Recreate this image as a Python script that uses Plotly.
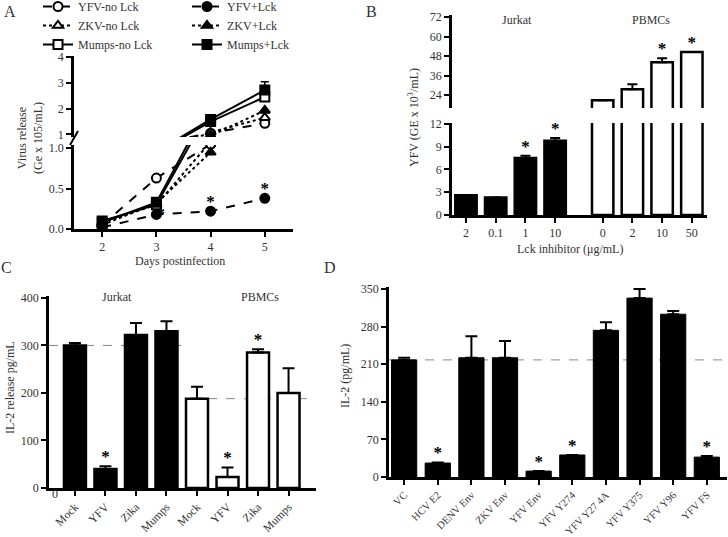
import plotly.graph_objects as go

W, H = 728, 537
FONT = "Liberation Serif"
TICKC = "#333333"


def px(x):
    return x / W


def py(y):
    return 1 - y / H


# ---------------- Panel A data ----------------
a_days = [2, 3, 4, 5]
a_names = ["YFV-no Lck", "ZKV-no Lck", "Mumps-no Lck", "YFV+Lck", "ZKV+Lck", "Mumps+Lck"]
a_yfv_no = [0.05, 0.63, 1.05, 1.43]
a_zkv_no = [0.08, 0.30, 1.08, 1.65]
a_mumps_no = [0.10, 0.30, 1.50, 2.45]
a_yfv_lck = [0.02, 0.18, 0.22, 0.38]
a_zkv_lck = [0.05, 0.32, 0.95, 1.93]
a_mumps_lck = [0.08, 0.33, 1.58, 2.72]
a_mumps_lck_err = [0.02, 0.03, 0.08, 0.32]
a_yfv_lck_sig = [False, True, True, True]

# ---------------- Panel B data ----------------
b_jurkat_labels = ["2", "0.1", "1", "10"]
b_jurkat_vals = [2.6, 2.3, 7.5, 9.8]
b_jurkat_err = [0, 0, 0.3, 0.35]
b_jurkat_sig = [False, False, True, True]
b_pbmc_labels = ["0", "2", "10", "50"]
b_pbmc_vals = [20.8, 27.6, 44.2, 50.5]
b_pbmc_err = [0, 3.0, 2.4, 0]
b_pbmc_sig = [False, False, True, True]

# ---------------- Panel C data ----------------
c_labels = ["Mock", "YFV", "Zika", "Mumps", "Mock", "YFV", "Zika", "Mumps"]
c_jurkat_vals = [300, 40, 322, 330]
c_jurkat_err = [5, 6, 25, 21]
c_jurkat_sig = [False, True, False, False]
c_pbmc_vals = [188, 23, 285, 200]
c_pbmc_err = [25, 20, 7, 52]
c_pbmc_sig = [False, True, True, False]

# ---------------- Panel D data ----------------
d_labels = ["VC", "HCV E2", "DENV Env", "ZKV Env", "YFV Env", "YFV Y274",
            "YFV Y27 4A", "YFV Y375", "YFV Y96", "YFV FS"]
d_vals = [218, 26, 222, 222, 11, 41, 273, 333, 303, 37]
d_err = [4, 1, 40, 31, 0, 0, 15, 17, 6, 2]
d_sig = [False, True, False, False, True, True, False, False, False, True]

fig = go.Figure()
STAR_FONT = dict(family=FONT, size=17, color="black", weight="bold")

# ---------------- Panel A traces ----------------
a_data = [a_yfv_no, a_zkv_no, a_mumps_no, a_yfv_lck, a_zkv_lck, a_mumps_lck]
a_dash = ["dash", "dot", "solid", "dash", "dot", "solid"]
a_sym = ["circle", "triangle-up", "square", "circle", "triangle-up", "square"]
a_fill = ["white", "white", "white", "black", "black", "black"]
for i, (name, vals) in enumerate(zip(a_names, a_data)):
    err = a_mumps_lck_err if name == "Mumps+Lck" else None
    for xa, ya, show in (("x", "y", True), ("x2", "y2", False)):
        fig.add_trace(go.Scatter(
            x=a_days, y=vals, name=name, mode="lines+markers",
            xaxis=xa, yaxis=ya, showlegend=show,
            legend="legend" if i < 3 else "legend2",
            line=dict(color="black", width=2, dash=a_dash[i]),
            marker=dict(symbol=a_sym[i], size=9, color=a_fill[i],
                        line=dict(color="black", width=2)),
            error_y=dict(type="data", symmetric=False, array=err,
                         arrayminus=[0] * len(a_days), color="black",
                         thickness=1.5, width=4, visible=err is not None),
        ))
# significance stars
a_star_pos = ["middle right" if d == 3 else "top center" for d in a_days]
fig.add_trace(go.Scatter(
    x=[d for d, s in zip(a_days, a_yfv_lck_sig) if s],
    y=[v for v, s in zip(a_yfv_lck, a_yfv_lck_sig) if s],
    text=["*" for s in a_yfv_lck_sig if s],
    textposition=[p for p, s in zip(a_star_pos, a_yfv_lck_sig) if s],
    mode="text", xaxis="x", yaxis="y", showlegend=False, textfont=STAR_FONT,
))

# ---------------- Panel B traces ----------------
b_jx = list(range(len(b_jurkat_vals)))
b_px = [4.6 + i for i in range(len(b_pbmc_vals))]
B_LOW = [0, 12.13]
B_UP = [16, 73]
for xs, vals, errs, fill in ((b_jx, b_jurkat_vals, b_jurkat_err, "black"),
                             (b_px, b_pbmc_vals, b_pbmc_err, "white")):
    for xa, ya, rng in (("x3", "y3", B_LOW), ("x4", "y4", B_UP)):
        e = [er if (rng[0] <= v and v + er <= rng[1]) else 0 for v, er in zip(vals, errs)]
        fig.add_trace(go.Bar(
            x=xs, y=vals, width=0.72, xaxis=xa, yaxis=ya, showlegend=False,
            marker=dict(color=fill, line=dict(color="black", width=2.5)),
            error_y=dict(type="data", symmetric=False, array=e,
                         arrayminus=[0] * len(vals), color="black",
                         thickness=2, width=5),
        ))
for xs, vals, errs, sig in ((b_jx, b_jurkat_vals, b_jurkat_err, b_jurkat_sig),
                            (b_px, b_pbmc_vals, b_pbmc_err, b_pbmc_sig)):
    for xa, ya, rng in (("x3", "y3", B_LOW), ("x4", "y4", B_UP)):
        sx = [x for x, v, s in zip(xs, vals, sig) if s and rng[0] <= v <= rng[1]]
        sy = [v + e for v, e, s in zip(vals, errs, sig) if s and rng[0] <= v <= rng[1]]
        if sx:
            fig.add_trace(go.Scatter(
                x=sx, y=sy, text=["*"] * len(sx), mode="text",
                textposition="top center", xaxis=xa, yaxis=ya, showlegend=False,
                textfont=STAR_FONT))

# ---------------- Panel C traces ----------------
c_jx = list(range(len(c_jurkat_vals)))
c_px = [len(c_jurkat_vals) + i for i in range(len(c_pbmc_vals))]
for xs, vals, errs, fill in ((c_jx, c_jurkat_vals, c_jurkat_err, "black"),
                             (c_px, c_pbmc_vals, c_pbmc_err, "white")):
    fig.add_trace(go.Bar(
        x=xs, y=vals, width=0.72, xaxis="x5", yaxis="y5", showlegend=False,
        marker=dict(color=fill, line=dict(color="black", width=2.5)),
        error_y=dict(type="data", symmetric=False, array=errs,
                     arrayminus=[0] * len(vals), color="black",
                     thickness=2, width=6),
    ))
c_sx, c_sy = [], []
for xs, vals, errs, sig in ((c_jx, c_jurkat_vals, c_jurkat_err, c_jurkat_sig),
                            (c_px, c_pbmc_vals, c_pbmc_err, c_pbmc_sig)):
    for x, v, e, s in zip(xs, vals, errs, sig):
        if s:
            c_sx.append(x)
            c_sy.append(v + e)
fig.add_trace(go.Scatter(x=c_sx, y=c_sy, text=["*"] * len(c_sx), mode="text",
                         textposition="top center", xaxis="x5", yaxis="y5",
                         showlegend=False, textfont=STAR_FONT))

# ---------------- Panel D traces ----------------
d_x = list(range(len(d_vals)))
fig.add_trace(go.Bar(
    x=d_x, y=d_vals, width=0.75, xaxis="x6", yaxis="y6", showlegend=False,
    marker=dict(color="black", line=dict(color="black", width=1)),
    error_y=dict(type="data", symmetric=False, array=d_err,
                 arrayminus=[0] * len(d_vals), color="black", thickness=2, width=6),
))
fig.add_trace(go.Scatter(
    x=[x for x, s in zip(d_x, d_sig) if s],
    y=[v + e for v, e, s in zip(d_vals, d_err, d_sig) if s],
    text=["*" for s in d_sig if s], mode="text", textposition="top center",
    xaxis="x6", yaxis="y6", showlegend=False, textfont=STAR_FONT))

# ---------------- axes ----------------
tickfont = dict(family=FONT, size=12, color=TICKC)


def axis(domain, rng, anchor, **kw):
    d = dict(domain=domain, range=rng, anchor=anchor, showline=True,
             linecolor="black", linewidth=2.5, ticks="outside", ticklen=5,
             tickwidth=2, tickcolor="black", tickfont=tickfont, automargin=False,
             showgrid=False, zeroline=False, fixedrange=True)
    d.update(kw)
    return d


A_XD = [px(74), px(293)]
A_XR = [1.48, 5.52]
B_XD = [px(452), px(707)]
B_XR = [-0.47, 8.11]

fig.update_layout(
    width=W, height=H, margin=dict(l=0, r=0, t=0, b=0, autoexpand=False),
    paper_bgcolor="white", plot_bgcolor="white", barmode="overlay",
    font=dict(family=FONT, color=TICKC),
    xaxis=axis(A_XD, A_XR, "y", tickvals=a_days),
    yaxis=axis([py(229), py(145)], [0, 1.04], "x",
               tickvals=[0, 0.5, 1.0], ticktext=["0.0", "0.5", "1.0"]),
    xaxis2=axis(A_XD, A_XR, "y2", visible=False),
    yaxis2=axis([py(137), py(56)], [0.9, 4.04], "x2", tickvals=[1, 2, 3, 4]),
    xaxis3=axis(B_XD, B_XR, "y3", tickvals=b_jx + b_px,
                ticktext=b_jurkat_labels + b_pbmc_labels),
    yaxis3=axis([py(215), py(123)], B_LOW, "x3", tickvals=[0, 3, 6, 9, 12]),
    xaxis4=axis(B_XD, B_XR, "y4", visible=False),
    yaxis4=axis([py(108), py(15.4)], B_UP, "x4", tickvals=[24, 36, 48, 60, 72]),
    xaxis5=axis([px(49), px(316)], [-0.85, 7.9], "y5", tickvals=c_jx + c_px,
                ticktext=c_labels, tickangle=-45,
                tickfont=dict(family=FONT, size=11.5, color=TICKC)),
    yaxis5=axis([py(488), py(296)], [0, 404], "x5", tickvals=[0, 100, 200, 300, 400]),
    xaxis6=axis([px(389), px(727)], [-0.45, 9.6], "y6", tickvals=d_x,
                ticktext=d_labels, tickangle=-45,
                tickfont=dict(family=FONT, size=10.5, color=TICKC)),
    yaxis6=axis([py(477), py(287)], [0, 353.7], "x6",
                tickvals=[0, 70, 140, 210, 280, 350]),
    legend=dict(x=px(38), y=py(-8), xanchor="left", yanchor="top",
                font=dict(family=FONT, size=12, color=TICKC),
                bgcolor="rgba(0,0,0,0)", tracegroupgap=0),
    legend2=dict(x=px(187), y=py(-8), xanchor="left", yanchor="top",
                 font=dict(family=FONT, size=12, color=TICKC),
                 bgcolor="rgba(0,0,0,0)", tracegroupgap=0),
)

# reference dashed lines (at mock / VC values)
fig.add_shape(type="line", xref="x5", yref="y5", x0=-0.85, x1=3.48,
              y0=c_jurkat_vals[0], y1=c_jurkat_vals[0], layer="below",
              line=dict(color="#888888", width=1, dash="dash"))
fig.add_shape(type="line", xref="x5", yref="y5", x0=4.36, x1=7.9,
              y0=c_pbmc_vals[0], y1=c_pbmc_vals[0], layer="below",
              line=dict(color="#888888", width=1, dash="dash"))
fig.add_shape(type="line", xref="x6", yref="y6", x0=-0.45, x1=9.6,
              y0=d_vals[0], y1=d_vals[0], layer="below",
              line=dict(color="#888888", width=1, dash="dash"))
# axis break mark in panel A
fig.add_shape(type="line", xref="paper", yref="paper", x0=px(70), x1=px(78),
              y0=py(145), y1=py(131), line=dict(color="black", width=2))

annos = [
    ("A", 10, 12, 16, 0), ("B", 371, 12, 16, 0), ("C", 6, 268, 16, 0), ("D", 330, 268, 16, 0),
    ("Virus release<br>(Ge x 105/mL)", 30, 138, 12, -90),
    ("Days postinfection", 180, 261, 12, 0),
    ("Jurkat", 517, 20, 12, 0), ("PBMCs", 651, 20, 12, 0),
    ("YFV (GE x 10<sup>3</sup>/mL)", 413, 118, 12, -90),
    ("Lck inhibitor (μg/mL)", 570, 249, 12, 0),
    ("Jurkat", 117, 297, 12, 0), ("PBMCs", 260, 297, 12, 0),
    ("IL-2 release pg/mL", 10, 388, 12, -90),
    ("0", 55, 494, 12, 0),
    ("IL-2 (pg/mL)", 345, 376, 12, -90),
]
for text, x, y, size, ang in annos:
    fig.add_annotation(text=text, x=px(x), y=py(y), xref="paper", yref="paper",
                       showarrow=False, textangle=ang, xanchor="center", yanchor="middle",
                       font=dict(family=FONT, size=size, color=TICKC))

fig.write_html("out.html", config={"displayModeBar": False},
               post_script="document.body.style.margin='0px';document.body.style.padding='0px';")
